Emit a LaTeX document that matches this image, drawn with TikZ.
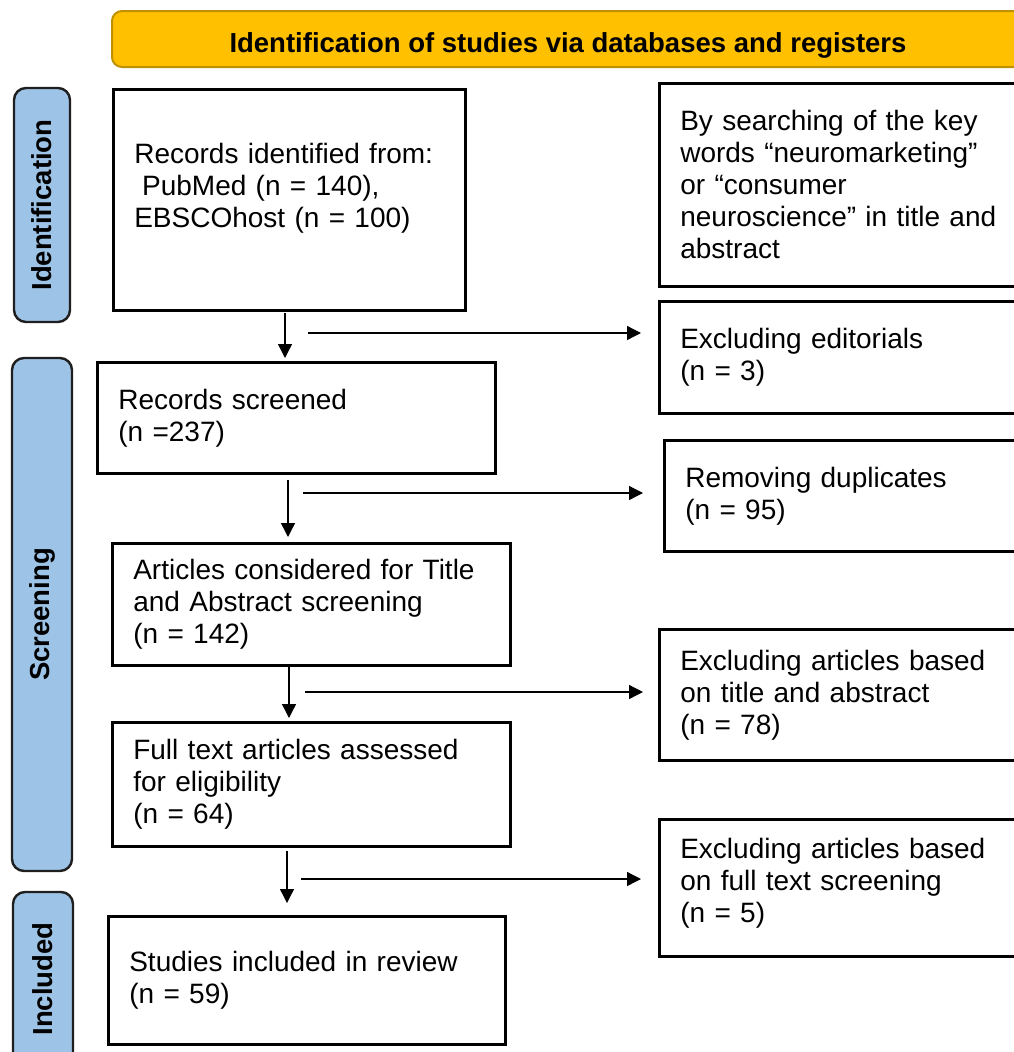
\documentclass[tikz,border=0pt]{standalone}
\usepackage{fontspec}
\setmainfont{Liberation Sans}
\usetikzlibrary{calc,arrows.meta}

\definecolor{headfill}{HTML}{FFC000}
\definecolor{headline}{HTML}{BF9000}
\definecolor{stagefill}{HTML}{9DC3E6}
\definecolor{stageline}{HTML}{1F1F1F}

\begin{document}
\begin{tikzpicture}[x=1pt, y=-1pt,
    font=\fontsize{28}{32}\selectfont,
    box/.style={draw, line width=2.6pt, anchor=north west, align=left,
        inner xsep=21pt, inner ysep=0pt},
    stage/.style={draw=stageline, fill=stagefill, line width=2.4pt,
        rounded corners=12pt, rotate=90,
        font=\fontsize{27.5}{32}\selectfont\bfseries},
    arr/.style={line width=1.3pt, -{Triangle[length=14pt,width=14pt]}}]

            \useasboundingbox (0,0) rectangle (1014,1052);
            \clip (0,0) rectangle (1014,1052);

            % header and stages
            \node (H) at (568,39) [draw=headline, fill=headfill, line width=2pt,
                rounded corners=10pt, minimum width=912pt, minimum height=56pt,
                text height=26pt, text depth=0pt,
                font=\fontsize{27.5}{32}\selectfont\bfseries]
                {Identification of studies via databases and registers};

            \node (S1) at (42,205) [stage, minimum width=234pt, minimum height=56pt] {Identification};
            \node (S2) at (42,614.5) [stage, minimum width=513pt, minimum height=60pt] {Screening};
            \node (S3) at (43,979) [stage, minimum width=174pt, minimum height=60pt] {Included};

            % main column
            \node (R1) at (112,88) [box, minimum width=352pt, text width=310pt, minimum height=221pt]
                {Records identified from:\\\hspace*{0.28em}PubMed (n = 140),\\EBSCOhost (n = 100)\rule[-28pt]{0pt}{28pt}};
            \node (R2) at (96,361) [box, minimum width=398pt, text width=356pt, minimum height=111pt]
                {Records screened\\(n =237)};
            \node (R3) at (111,542) [box, minimum width=398pt, text width=356pt, minimum height=122pt]
                {Articles considered for Title\\and Abstract screening\\(n = 142)};
            \node (R4) at (111,721) [box, minimum width=398pt, text width=356pt, minimum height=124pt]
                {Full text articles assessed\\for eligibility\\(n = 64)};
            \node (R5) at (107,915) [box, minimum width=397pt, text width=355pt, minimum height=128pt]
                {Studies included in review\\(n = 59)};

            % side column
            \node (X0) at (658,82) [box, minimum width=390pt, text width=348pt, minimum height=203pt]
                {By searching of the key\\words “neuromarketing”\\or “consumer\\neuroscience” in title and\\abstract};
            \node (X1) at (658,300) [box, minimum width=390pt, text width=348pt, minimum height=112pt]
                {Excluding editorials\\(n = 3)};
            \node (X2) at (663,439) [box, minimum width=390pt, text width=348pt, minimum height=111pt]
                {Removing duplicates\\(n = 95)};
            \node (X3) at (658,628) [box, minimum width=390pt, text width=348pt, minimum height=131pt]
                {Excluding articles based\\on title and abstract\\(n = 78)};
            \node (X4) at (658,818) [box, minimum width=390pt, text width=348pt, minimum height=137pt]
                {Excluding articles based\\on full text screening\\(n = 5)\rule[-15pt]{0pt}{15pt}};

            % arrows down
            \foreach \n/\x/\y/\s in {R2/285/313/3, R3/288/480/5, R4/289/667/3, R5/287/851/12}
                {
                    \coordinate (d) at (\x,\y);
                    \draw [arr, shorten >=\s pt] (d) -- (d |- \n.north);
                }

            % arrows right
            \foreach \n/\x/\y/\s in {X1/308/333/17, X2/303/493/20, X3/305/692/15, X4/301/879/17}
                {
                    \coordinate (h) at (\x,\y);
                    \draw [arr, shorten >=\s pt] (h) -- (h -| \n.west);
                }

        \end{tikzpicture}
\end{document}
